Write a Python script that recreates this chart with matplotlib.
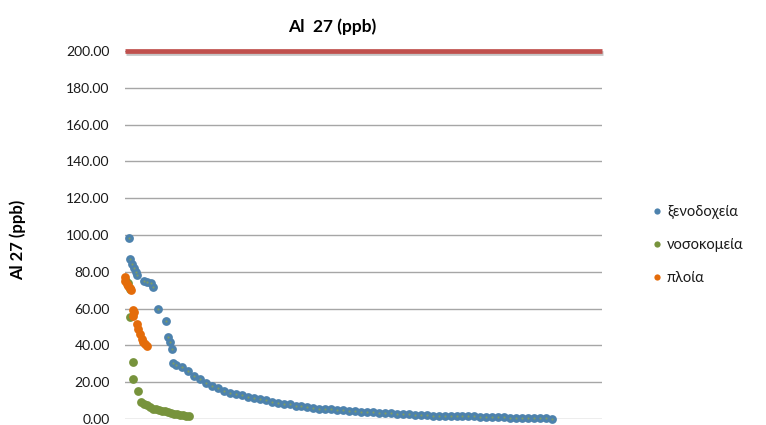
import numpy as np
import matplotlib
matplotlib.use("Agg")
import matplotlib.pyplot as plt
import matplotlib.patheffects as pe
from matplotlib.lines import Line2D

plt.rcParams['font.family'] = ['Lato', 'Open Sans', 'DejaVu Sans']

# ---- data -------------------------------------------------------------
title = "Al  27 (ppb)"
ylabel = "Al 27 (ppb)"
series_names = ["ξενοδοχεία", "νοσοκομεία", "πλοία"]
limit_value = 200.0
y_ticks = np.arange(0, 201, 20)

# hotels: first samples (irregular positions), then the long sorted tail
hotels_head_x = [0.84, 1.05, 1.47, 1.89, 2.31, 2.52, 3.98, 4.61, 5.45, 5.87,
                 6.92, 8.60, 9.01, 9.43, 9.85, 10.06]
hotels_head_y = [98.5, 87.0, 84.5, 82.0, 80.0, 78.0, 75.0, 74.5, 74.0, 72.0,
                 60.0, 53.0, 44.5, 42.0, 38.0, 30.5]
hotels_tail_y = [29.5, 28.0, 26.0, 23.5, 21.5, 19.8, 18.0, 16.6, 15.4, 14.4,
                 13.6, 12.8, 11.9, 11.3, 10.9, 10.3, 9.4, 8.8, 8.4, 7.9,
                 7.3, 6.9, 6.5, 6.0, 5.5, 5.3, 5.2, 5.1, 5.0, 4.6,
                 4.3, 4.0, 3.9, 3.8, 3.5, 3.2, 3.0, 2.9, 2.7, 2.5,
                 2.3, 2.2, 2.0, 1.9, 1.8, 1.8, 1.7, 1.6, 1.5, 1.5,
                 1.4, 1.3, 1.2, 1.1, 1.0, 0.9, 0.8, 0.7, 0.6, 0.5,
                 0.4, 0.3, 0.3, 0.2]
hotels_tail_start, hotels_tail_step = 10.75, 1.25

hospitals_x = [0.21, 0.63, 1.05, 1.05, 1.68, 1.68, 2.73, 3.35, 3.98, 4.61,
               5.24, 5.87, 6.50, 7.13, 7.76, 8.39, 9.01, 9.64, 10.27, 10.90,
               11.53, 12.16, 12.79, 13.42]
hospitals_y = [75.0, 74.0, 70.5, 55.5, 31.0, 22.0, 15.0, 9.0, 8.2, 7.8,
               6.5, 5.5, 5.2, 4.9, 4.5, 4.2, 3.8, 3.3, 2.9, 2.6,
               2.3, 2.0, 1.7, 1.4]

ships_x = [0.0, 0.0, 0.42, 0.63, 1.05, 1.26, 1.68, 1.89, 1.68, 2.52,
           2.73, 3.14, 3.56, 3.77, 4.19, 4.61]
ships_y = [77.0, 75.0, 73.5, 72.5, 71.0, 70.0, 59.5, 58.0, 56.0, 51.5,
           49.0, 46.0, 43.5, 42.0, 41.0, 39.6]

# ---- styling ----------------------------------------------------------
c_hotels = "#4d82ad"
c_hotels_core = "#7d9c66"
c_hosp = "#77933c"
c_ships = "#e46c0a"
c_limit = "#c0504d"
c_grid = "#a6a6a6"
c_text = "#1a1a1a"

W, H = 766, 425
fig = plt.figure(figsize=(W / 100, H / 100), dpi=100)
ax = fig.add_axes([125 / W, 6 / H, 477 / W, 368 / H])

hotels_tail_x = hotels_tail_start + hotels_tail_step * np.arange(len(hotels_tail_y))
hotels_x = np.concatenate([hotels_head_x, hotels_tail_x])
hotels_y = np.concatenate([hotels_head_y, hotels_tail_y])

msize = 40
ax.scatter(hotels_x, hotels_y, s=msize, color=c_hotels, lw=0, zorder=3, clip_on=False)
ax.scatter(hotels_x, hotels_y, s=2.5, color=c_hotels_core, lw=0, zorder=3.1, clip_on=False)
ax.scatter(hospitals_x, hospitals_y, s=msize, color=c_hosp, lw=0, zorder=4, clip_on=False)
ax.scatter(ships_x, ships_y, s=msize, color=c_ships, lw=0, zorder=5, clip_on=False)

# limit line with soft shadow
ax.axhline(limit_value, color=c_limit, lw=3.4, zorder=6, clip_on=False,
           solid_capstyle='butt',
           path_effects=[pe.SimpleLineShadow(offset=(1, -1.5), shadow_color='#808080', alpha=0.45),
                         pe.Normal()])

ax.set_xlim(0, 100)
ax.set_ylim(0, 200)
ax.set_yticks(y_ticks)
ax.set_yticklabels([f"{v:.2f}" for v in y_ticks], fontsize=10, color=c_text)
ax.set_xticks([])
ax.tick_params(axis='y', length=0, pad=11)
ax.yaxis.grid(True, color=c_grid, lw=1)
ax.set_axisbelow(True)
for s in ax.spines.values():
    s.set_visible(False)

fig.text(332 / W, 1 - 27 / H, title, ha='center', va='center',
         fontsize=12.5, fontweight='bold', color='black')
fig.text(18 / W, 1 - 240 / H, ylabel, ha='center', va='center', rotation=90,
         fontsize=12, fontweight='bold', color='black')

handles = [Line2D([], [], ls='', marker='o', ms=4.5, mec='none', mfc=c)
           for c in (c_hotels, c_hosp, c_ships)]
fig.legend(handles, series_names, loc='upper left',
           bbox_to_anchor=(645 / W, 1 - 198 / H), frameon=False,
           fontsize=10.5, handlelength=0.6, handletextpad=0.4,
           labelspacing=1.3, borderpad=0, labelcolor=c_text)

fig.savefig("out.png", dpi=100)
